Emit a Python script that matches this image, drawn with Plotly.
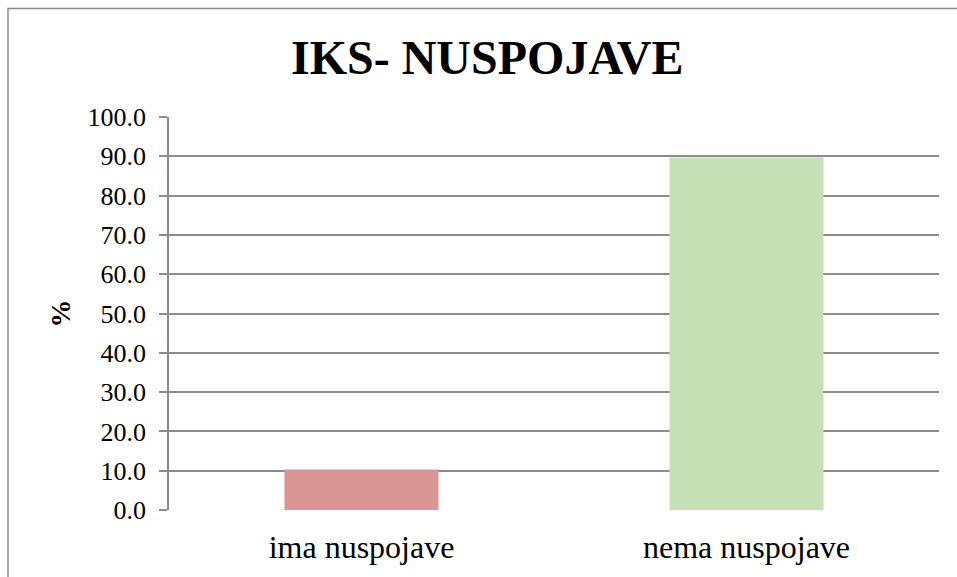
import plotly.graph_objects as go

categories = ["ima nuspojave", "nema nuspojave"]
values = [10.3, 89.7]
bar_colors = ["#D99694", "#C5E0B4"]
tick_vals = [0, 10, 20, 30, 40, 50, 60, 70, 80, 90, 100]
tick_text = [f"{v:.1f}" for v in tick_vals]
title_text = "IKS- NUSPOJAVE"
y_label = "%"

W, H = 957, 577
L, R, T, B = 169, 18, 117, 65
pw = W - L - R
ph = H - T - B

def px_x(p):
    return (p - L) / pw

def px_y(p):
    return (H - B - p) / ph

grid = "#8C8C8C"
font_family = "Liberation Serif, Times New Roman, Tinos, serif"

fig = go.Figure(
    go.Bar(
        x=categories,
        y=values,
        marker=dict(color=bar_colors, line=dict(width=0)),
        hoverinfo="x+y",
    )
)

fig.update_layout(
    width=W,
    height=H,
    margin=dict(l=L, r=R, t=T, b=B, pad=0),
    paper_bgcolor="white",
    plot_bgcolor="white",
    bargap=0.6,
    showlegend=False,
    font=dict(family=font_family, color="black"),
    xaxis=dict(
        showgrid=False,
        showline=False,
        ticks="",
        tickfont=dict(family=font_family, size=32, color="black"),
        ticklabelstandoff=15,
        zeroline=False,
    ),
    yaxis=dict(
        range=[0, 100],
        tickvals=tick_vals,
        ticktext=tick_text,
        showgrid=True,
        gridcolor=grid,
        gridwidth=1.5,
        showline=True,
        linecolor=grid,
        linewidth=1.5,
        ticks="outside",
        ticklen=8,
        tickcolor=grid,
        tickwidth=1.5,
        ticklabelstandoff=8,
        tickfont=dict(family=font_family, size=26, color="black"),
        zeroline=False,
    ),
    annotations=[
        dict(
            text="<b>" + title_text + "</b>",
            x=px_x(487),
            y=px_y(57),
            xref="paper",
            yref="paper",
            xanchor="center",
            yanchor="middle",
            showarrow=False,
            font=dict(family=font_family, size=48, color="black"),
        ),
        dict(
            text="<b>" + y_label + "</b>",
            x=px_x(60),
            y=0.5,
            xref="paper",
            yref="paper",
            xanchor="center",
            yanchor="middle",
            textangle=-90,
            showarrow=False,
            font=dict(family=font_family, size=28, color="black"),
        ),
    ],
    shapes=[
        dict(
            type="rect",
            xref="paper",
            yref="paper",
            x0=px_x(8),
            x1=px_x(W + 20),
            y0=px_y(H + 20),
            y1=px_y(8),
            line=dict(color=grid, width=1.5),
            fillcolor="rgba(0,0,0,0)",
            layer="below",
        )
    ],
)

fig.write_html(
    "out.html",
    config={"displayModeBar": False},
    post_script="document.body.style.margin='0';document.body.style.padding='0';",
)
